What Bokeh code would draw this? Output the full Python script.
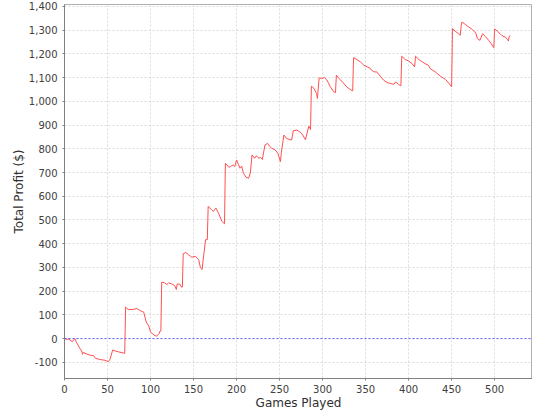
from bokeh.plotting import figure
from bokeh.models import Range1d, Span, NumeralTickFormatter, FixedTicker
from bokeh.embed import file_html
from bokeh.resources import INLINE

games = [0, 3, 5, 9, 12, 14, 18, 20, 21, 22, 24, 30, 34, 36, 41, 47, 51, 53, 56, 59,
         63, 70, 71, 74, 80, 84, 88, 92, 95, 98, 100, 104, 107, 110, 111, 112, 113, 116,
         119, 121, 125, 128, 130, 131, 134, 136, 137, 138, 141, 144, 148, 152, 156, 158,
         160, 161, 164, 166, 167, 171, 173, 176, 179, 183, 186, 187, 191, 193, 196, 198,
         200, 202, 204, 206, 208, 211, 214, 216, 218, 221, 223, 226, 228, 230, 233, 236,
         238, 241, 245, 248, 251, 252, 255, 258, 261, 264, 266, 270, 274, 277, 280, 284,
         286, 287, 290, 293, 294, 296, 299, 302, 305, 309, 313, 315, 316, 318, 321, 324,
         328, 332, 335, 336, 340, 344, 348, 352, 355, 357, 360, 363, 367, 371, 375, 379,
         383, 385, 388, 391, 392, 396, 400, 404, 407, 408, 412, 416, 419, 423, 425, 431,
         437, 443, 447, 450, 451, 454, 458, 460, 461, 462, 466, 470, 474, 478, 480, 483,
         486, 489, 493, 496, 499, 500, 503, 507, 511, 512, 515, 516, 517, 518]
profit = [0, -3, -2, -13, 0, -16, -42, -52, -66, -58, -62, -70, -72, -83, -88, -91, -97, -86, -48, -52,
          -56, -62, 133, 123, 123, 127, 118, 112, 70, 53, 28, 15, 10, 22, 32, 32, 238, 236,
          228, 235, 230, 224, 207, 230, 230, 217, 217, 358, 363, 354, 343, 347, 333, 298,
          291, 326, 417, 417, 557, 543, 536, 550, 529, 494, 484, 739, 722, 725, 732, 725,
          753, 735, 718, 727, 697, 680, 676, 697, 774, 760, 770, 760, 764, 755, 816, 823,
          812, 802, 795, 781, 746, 781, 858, 844, 840, 837, 876, 879, 870, 858, 838, 895,
          881, 1064, 1054, 1033, 1012, 1099, 1096, 1100, 1090, 1061, 1040, 1037, 1110, 1100, 1090, 1078,
          1061, 1050, 1044, 1184, 1176, 1166, 1152, 1145, 1140, 1131, 1124, 1124, 1106, 1089, 1079, 1075,
          1072, 1082, 1072, 1065, 1190, 1176, 1170, 1159, 1145, 1190, 1176, 1166, 1159, 1152, 1138, 1124,
          1106, 1092, 1075, 1061, 1306, 1296, 1285, 1278, 1316, 1334, 1324, 1313, 1303, 1288, 1264, 1257,
          1285, 1274, 1257, 1243, 1226, 1305, 1296, 1282, 1271, 1273, 1260, 1254, 1274, 1278]

x_ticks = [0, 50, 100, 150, 200, 250, 300, 350, 400, 450, 500]
y_ticks = [-100, 0, 100, 200, 300, 400, 500, 600, 700, 800, 900, 1000, 1100, 1200, 1300, 1400]

p = figure(width=532, height=412, output_backend="svg", toolbar_location=None,
           x_range=Range1d(0, 544), y_range=Range1d(-168, 1408),
           min_border_left=64, min_border_right=0, min_border_top=4, min_border_bottom=0)
p.background_fill_color = "white"
p.border_fill_color = "white"
p.outline_line_color = "#b0b0b0"
p.outline_line_width = 1

p.xaxis.ticker = FixedTicker(ticks=x_ticks)
p.yaxis.ticker = FixedTicker(ticks=y_ticks)
p.yaxis.formatter = NumeralTickFormatter(format="0,0")
p.xaxis.formatter = NumeralTickFormatter(format="0")

for ax in (p.xaxis, p.yaxis):
    ax.axis_line_color = "#808080"
    ax.major_tick_line_color = "#808080"
    ax.major_tick_in = 0
    ax.major_tick_out = 2
    ax.minor_tick_line_color = None
    ax.major_label_text_font = "DejaVu Sans"
    ax.major_label_text_font_size = "10px"
    ax.major_label_text_color = "#404040"
    ax.axis_label_text_font = "DejaVu Sans"
    ax.axis_label_text_font_size = "12px"
    ax.axis_label_text_font_style = "normal"
    ax.axis_label_text_color = "#303030"

p.xaxis.major_label_standoff = 4
p.yaxis.major_label_standoff = 5
p.xaxis.axis_label = "Games Played"
p.yaxis.axis_label = "Total Profit ($)"
p.xaxis.axis_label_standoff = 0
p.yaxis.axis_label_standoff = 0

for g in (p.xgrid, p.ygrid):
    g.grid_line_color = "#dadada"
    g.grid_line_dash = "2 2"
    g.grid_line_width = 1
p.xgrid.ticker = FixedTicker(ticks=x_ticks)
p.ygrid.ticker = FixedTicker(ticks=y_ticks)

zero = Span(location=0, dimension="width", line_color="#5a5aff", line_dash="2 2", line_width=1)
p.add_layout(zero)

p.line(games, profit, line_color="#ff5050", line_width=1)

open("out.html", "w").write(file_html(p, INLINE))
